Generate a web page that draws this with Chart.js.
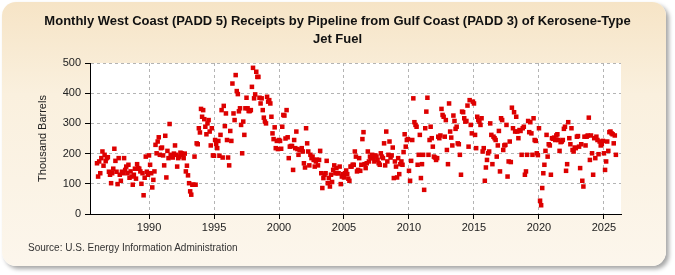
<!DOCTYPE html>
<html>
<head>
<meta charset="utf-8">
<script src="https://cdn.jsdelivr.net/npm/chart.js@4/dist/chart.umd.min.js"></script>
<style>
  body { margin: 0; background: #fff; }
  #wrap { position: relative; width: 675px; height: 275px; overflow: hidden; }
  .frame {
    position: absolute; left: 2px; top: 2px; width: 664px; height: 264px;
    border-radius: 14px;
    background: linear-gradient(to bottom, #f6e4c6 0%, #faf0de 35%, #fcf6ec 100%);
    box-shadow: 3px 3px 4px rgba(0,0,0,0.35);
  }
  #chart { position: absolute; left: 0; top: 0; }
  .source {
    position: absolute; left: 28px; top: 242px;
    font: 10px "Liberation Sans", Arial, sans-serif; color: #333;
  }
</style>
</head>
<body>
<div id="wrap">
  <div class="frame"></div>
  <canvas id="chart" width="675" height="275"></canvas>
  <div class="source">Source: U.S. Energy Information Administration</div>
</div>
<script>
// ===========================
// DATA (monthly, thousand barrels, starting Jan 1986)
// ===========================
const startYear = 1986;
const receipts = [
  168, 124, 174, 135, 185, 207, 160, 196, 175, 185, 188, 140, // 1986
  130, 102, 135, 150, 216, 176, 140, 99, 185, 130, 110, 140,  // 1987
  135, 185, 146, 157, 135, 163, 120, 141, 124, 97, 130, 150,  // 1988
  117, 165, 152, 150, 141, 100, 135, 62, 120, 190, 140, 130,  // 1989
  194, 163, 135, 88, 113, 141, 229, 201, 240, 254, 196, 218,  // 1990
  220, 194, 161, 259, 121, 209, 185, 298, 196, 190, 187, 200, // 1991
  227, 196, 157, 185, 190, 203, 201, 196, 185, 200, 141, 160, // 1992
  128, 102, 75, 64, 97, 97, 190, 97, 234, 231, 284, 270,      // 1993
  348, 322, 344, 314, 289, 264, 300, 311, 273, 227, 284, 194, // 1994
  193, 245, 231, 218, 242, 193, 262, 344, 187, 358, 291, 333, // 1995
  245, 187, 161, 275, 242, 432, 333, 311, 460, 407, 397, 340, // 1996
  350, 295, 201, 306, 262, 350, 385, 350, 341, 341, 344, 421, // 1997
  484, 383, 396, 471, 454, 454, 385, 366, 383, 344, 319, 306, // 1998
  300, 388, 372, 377, 366, 322, 267, 248, 287, 218, 242, 215, // 1999
  245, 242, 216, 289, 328, 326, 250, 344, 254, 185, 223, 225, // 2000
  225, 146, 245, 218, 273, 215, 196, 212, 212, 218, 207, 168, // 2001
  154, 284, 234, 207, 161, 196, 185, 190, 179, 157, 174, 180, // 2002
  161, 179, 209, 135, 86, 119, 130, 135, 176, 102, 119, 91,   // 2003
  130, 106, 146, 161, 135, 152, 135, 135, 157, 99, 124, 132,  // 2004
  121, 135, 144, 132, 117, 110, 157, 157, 163, 163, 207, 190, // 2005
  141, 146, 185, 143, 163, 248, 271, 165, 152, 168, 207, 174, // 2006
  190, 185, 196, 185, 174, 194, 190, 179, 168, 163, 201, 190, // 2007
  185, 234, 161, 273, 174, 196, 240, 187, 194, 220, 119, 174, // 2008
  157, 121, 185, 132, 165, 174, 163, 205, 264, 223, 245, 248, // 2009
  143, 110, 176, 245, 383, 304, 295, 289, 163, 196, 262, 119, // 2010
  165, 196, 80, 284, 339, 385, 196, 245, 289, 251, 223, 190,  // 2011
  187, 179, 185, 256, 251, 260, 348, 328, 322, 256, 311, 212, // 2012
  165, 366, 273, 253, 227, 326, 308, 282, 289, 234, 231, 196, // 2013
  130, 339, 337, 317, 306, 308, 359, 223, 377, 295, 267, 372, // 2014
  366, 262, 218, 322, 311, 306, 295, 317, 207, 218, 110, 154, // 2015
  179, 201, 207, 300, 262, 165, 256, 251, 245, 190, 227, 275, // 2016
  141, 317, 311, 212, 227, 229, 295, 124, 174, 240, 172, 352, // 2017
  284, 337, 273, 322, 273, 251, 278, 275, 196, 284, 289, 130, // 2018
  141, 196, 308, 271, 304, 267, 196, 317, 245, 242, 201, 195, // 2019
  284, 44, 29, 86, 135, 163, 209, 262, 190, 231, 227, 130,    // 2020
  251, 249, 253, 245, 260, 264, 245, 209, 238, 240, 245, 282, // 2021
  289, 143, 165, 304, 251, 231, 284, 212, 207, 220, 218, 256, // 2022
  258, 223, 152, 231, 110, 91, 256, 227, 256, 260, 319, 179,  // 2023
  260, 201, 130, 251, 185, 256, 245, 198, 240, 227, 231, 242, // 2024
  201, 146, 174, 240, 209, 271, 273, 267, 264, 234, 260, 196  // 2025
];
const yearTicks = [1990, 1995, 2000, 2005, 2010, 2015, 2020, 2025];
const valueTicks = [0, 100, 200, 300, 400, 500];

const points = receipts.map((v, i) => ({ x: startYear + i / 12, y: v }));

const FONT = '"Liberation Sans", Arial, sans-serif';

// white plot background
const plotBg = {
  id: 'plotBg',
  beforeDraw(chart) {
    const { ctx, chartArea: a } = chart;
    ctx.save();
    ctx.fillStyle = '#ffffff';
    ctx.fillRect(a.left, a.top, a.right - a.left, a.bottom - a.top);
    ctx.restore();
  }
};

new Chart(document.getElementById('chart').getContext('2d'), {
  type: 'scatter',
  data: {
    datasets: [{
      data: points,
      pointStyle: 'rect',
      pointRadius: 3.2,
      pointBorderWidth: 0,
      backgroundColor: '#dd0000',
      borderColor: '#dd0000',
      showLine: false
    }]
  },
  options: {
    responsive: false,
    animation: false,
    devicePixelRatio: 1,
    layout: { padding: 0 },
    scales: {
      x: {
        type: 'linear',
        min: 1985.46,
        max: 2026.31,
        afterBuildTicks: s => { s.ticks = yearTicks.map(v => ({ value: v })); },
        afterFit: s => { s.height = 61; },
        ticks: {
          color: '#222', font: { size: 11, family: FONT }, padding: 2,
          callback: v => String(v)
        },
        grid: { color: '#b4b4b4', tickColor: '#000', tickLength: 5 },
        border: { color: '#000', width: 1, dash: [3, 3] }
      },
      y: {
        min: 0,
        max: 500,
        afterBuildTicks: s => { s.ticks = valueTicks.map(v => ({ value: v })); },
        afterFit: s => { s.width = 90; },
        ticks: { color: '#222', font: { size: 11, family: FONT }, padding: 4 },
        grid: { color: '#b4b4b4', tickColor: '#000', tickLength: 5 },
        border: { color: '#000', width: 1, dash: [3, 3] },
        title: {
          display: true, text: 'Thousand Barrels', color: '#222',
          font: { size: 11, family: FONT }, padding: { top: 36, bottom: 0 }
        }
      },
      // spacer on the right so the title centres on the full width
      yRight: {
        position: 'right',
        display: true,
        ticks: { display: false },
        grid: { display: false },
        border: { display: false },
        afterFit: s => { s.width = 54; }
      }
    },
    plugins: {
      legend: { display: false },
      tooltip: { enabled: false },
      title: {
        display: true,
        text: ['Monthly West Coast (PADD 5) Receipts by Pipeline from Gulf Coast (PADD 3) of Kerosene-Type', 'Jet Fuel'],
        color: '#111',
        font: { size: 13, weight: 'bold', family: FONT, lineHeight: 1.35 },
        padding: { top: 13, bottom: 14.9 }
      }
    }
  },
  plugins: [plotBg]
});
</script>
</body>
</html>
